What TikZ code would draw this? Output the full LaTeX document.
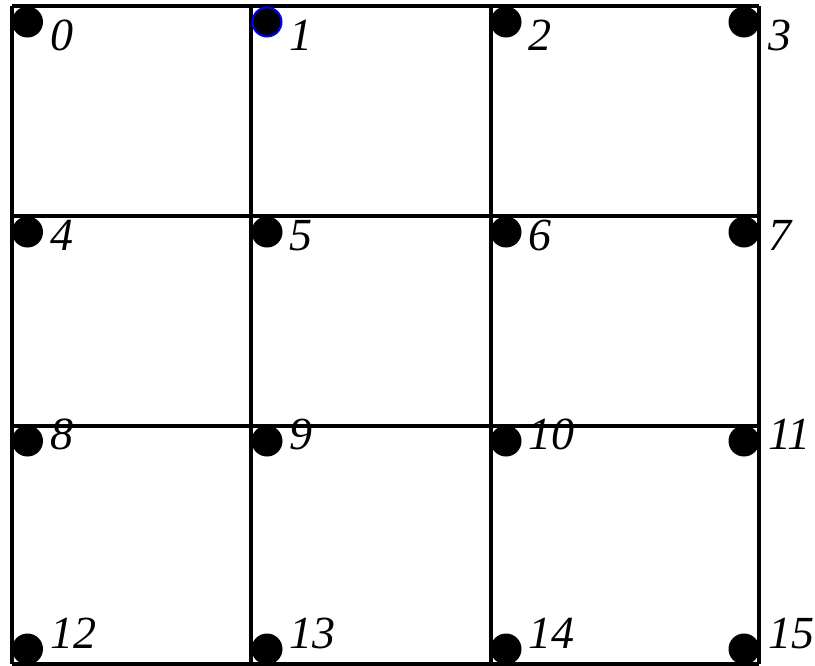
\documentclass[tikz,border=0pt]{standalone}
\usepackage{fontspec}
\setmainfont{Liberation Serif}
\begin{document}
\begin{tikzpicture}[x=1pt,y=-1pt,
  gridline/.style={line width=3.2pt,black},
  dot/.style={circle,fill=black,inner sep=0pt,minimum size=31pt},
  lbl/.style={anchor=base west,inner sep=0pt,font=\fontsize{46}{46}\selectfont\itshape}]
\useasboundingbox (0,0) rectangle (815,665);
% grid lines
\foreach \x in {12,251,491,759} \draw[gridline] (\x,6) -- (\x,664);
\foreach \y in {6,216,426,664} \draw[gridline] (12,\y) -- (759,\y);
% dots
\node[dot] (d0)  at (27.5,22) {};
\node[dot,draw=blue,line width=2pt,minimum size=29pt] (d1)  at (267,22) {};
\node[dot] (d2)  at (506,22) {};
\node[dot] (d3)  at (744,22) {};
\node[dot] (d4)  at (27.5,232) {};
\node[dot] (d5)  at (267,232) {};
\node[dot] (d6)  at (506,232) {};
\node[dot] (d7)  at (744,232) {};
\node[dot] (d8)  at (27.5,441) {};
\node[dot] (d9)  at (267,441) {};
\node[dot] (d10) at (506,441) {};
\node[dot] (d11) at (744,441) {};
\node[dot] (d12) at (27.5,649) {};
\node[dot] (d13) at (267,649) {};
\node[dot] (d14) at (506,649) {};
\node[dot] (d15) at (744,649) {};
% labels
\node[lbl] (l0)  at (50,50) {0};
\node[lbl] (l1)  at (289,50) {1};
\node[lbl] (l2)  at (528,50) {2};
\node[lbl] (l3)  at (768,50) {3};
\node[lbl] (l4)  at (50,250) {4};
\node[lbl] (l5)  at (289,250) {5};
\node[lbl] (l6)  at (528,250) {6};
\node[lbl] (l7)  at (768,250) {7};
\node[lbl] (l8)  at (50,449) {8};
\node[lbl] (l9)  at (289,449) {9};
\node[lbl] (l10) at (528,449) {10};
\node[lbl] (l11) at (768,449) {11};
\node[lbl] (l12) at (50,648) {12};
\node[lbl] (l13) at (289,648) {13};
\node[lbl] (l14) at (528,648) {14};
\node[lbl] (l15) at (768,648) {15};
\end{tikzpicture}
\end{document}
